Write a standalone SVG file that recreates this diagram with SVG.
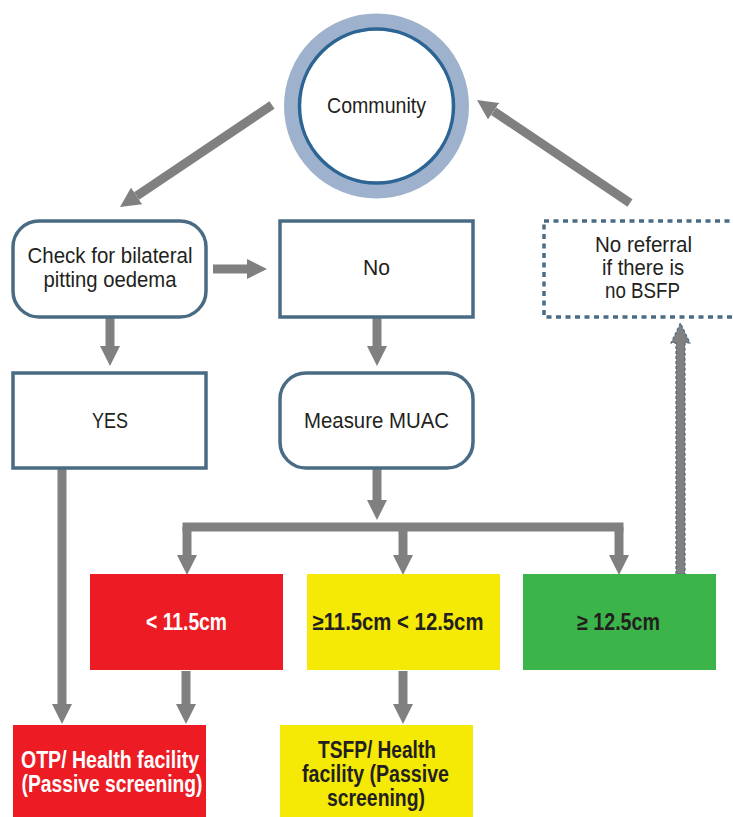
<svg xmlns="http://www.w3.org/2000/svg" width="733" height="817" viewBox="0 0 733 817">
<defs>
<style>
.node{fill:#fff;stroke:#4a6b84;stroke-width:3.5}
.dot{fill:#fff;stroke:#4a6b84;stroke-width:3.5;stroke-dasharray:5 4.5}
.t{font-family:"Liberation Sans",Arial,sans-serif;font-size:22px;fill:#231f20;text-anchor:middle}
.b{font-family:"Liberation Sans",Arial,sans-serif;font-size:23px;font-weight:bold;text-anchor:middle}
.w{fill:#fff}
.k{fill:#231f20}
.c{fill:none;stroke:#808080;stroke-width:9}
</style>
<marker id="ah" viewBox="0 0 20 20" refX="0" refY="10" markerWidth="20" markerHeight="20" markerUnits="userSpaceOnUse" orient="auto">
<path d="M0,0 L20,10 L0,20 z" fill="#808080"/>
</marker>
</defs>
<rect width="733" height="817" fill="#fff"/>

<g id="connectors">
<path class="c" d="M272,105 L136.6,195.9" marker-end="url(#ah)"/>
<path class="c" d="M630,203 L493.6,111.2" marker-end="url(#ah)"/>
<path class="c" d="M213,269 H247" marker-end="url(#ah)"/>
<path class="c" d="M110,317 V346" marker-end="url(#ah)"/>
<path class="c" d="M377,318 V346" marker-end="url(#ah)"/>
<path class="c" d="M377,469 V500" marker-end="url(#ah)"/>
<path class="c" d="M182.5,527 H623.5"/>
<path class="c" d="M187,527 V555" marker-end="url(#ah)"/>
<path class="c" d="M403,527 V555" marker-end="url(#ah)"/>
<path class="c" d="M619,527 V555" marker-end="url(#ah)"/>
<path class="c" d="M62,469 V704" marker-end="url(#ah)"/>
<path class="c" d="M186,671 V704" marker-end="url(#ah)"/>
<path class="c" d="M403,671 V704" marker-end="url(#ah)"/>
<polygon points="676,574 676,343 671,343 680.5,323 690,343 685,343 685,574" fill="#808080" stroke="#4a6b84" stroke-width="1.2" stroke-dasharray="3 2"/>
</g>

<g id="community">
<circle cx="376.5" cy="106" r="85" fill="none" stroke="#9fb2cd" stroke-width="15"/>
<circle cx="376.5" cy="106" r="77" fill="#fff" stroke="#2c6493" stroke-width="3.5"/>
<text class="t" x="376.5" y="113" textLength="99" lengthAdjust="spacingAndGlyphs">Community</text>
</g>

<g id="check">
<rect class="node" x="13" y="221" width="193" height="96" rx="26"/>
<text class="t" x="110" y="263" textLength="165" lengthAdjust="spacingAndGlyphs">Check for bilateral</text>
<text class="t" x="110" y="287" textLength="133" lengthAdjust="spacingAndGlyphs">pitting oedema</text>
</g>

<g id="no">
<rect class="node" x="280" y="221" width="193" height="96"/>
<text class="t" x="376.5" y="275" textLength="27" lengthAdjust="spacingAndGlyphs">No</text>
</g>

<g id="noreferral">
<rect class="dot" x="544" y="221" width="198" height="96"/>
<text class="t" x="643.5" y="252" textLength="97" lengthAdjust="spacingAndGlyphs">No referral</text>
<text class="t" x="643" y="275" textLength="82" lengthAdjust="spacingAndGlyphs">if there is</text>
<text class="t" x="642.5" y="298" textLength="75" lengthAdjust="spacingAndGlyphs">no BSFP</text>
</g>

<g id="yes">
<rect class="node" x="13" y="373" width="193" height="95"/>
<text class="t" x="110" y="428" textLength="36" lengthAdjust="spacingAndGlyphs">YES</text>
</g>

<g id="muac">
<rect class="node" x="280" y="373" width="193" height="95" rx="26"/>
<text class="t" x="376.5" y="428" textLength="145" lengthAdjust="spacingAndGlyphs">Measure MUAC</text>
</g>

<g id="lt115">
<rect x="90" y="574" width="193" height="96" fill="#ed1c24"/>
<text class="b w" x="186.5" y="630" textLength="81" lengthAdjust="spacingAndGlyphs">&lt; 11.5cm</text>
</g>

<g id="mid">
<rect x="307" y="574" width="193" height="96" fill="#f5ea05"/>
<text class="b k" x="398" y="630" textLength="171" lengthAdjust="spacingAndGlyphs">≥11.5cm &lt; 12.5cm</text>
</g>

<g id="ge125">
<rect x="523" y="574" width="193" height="96" fill="#3bb54a"/>
<text class="b k" x="618.5" y="630" textLength="83" lengthAdjust="spacingAndGlyphs">≥ 12.5cm</text>
</g>

<g id="otp">
<rect x="13" y="725" width="193" height="92" fill="#ed1c24"/>
<text class="b w" x="110" y="768" textLength="178" lengthAdjust="spacingAndGlyphs">OTP/ Health facility</text>
<text class="b w" x="112" y="792" textLength="181" lengthAdjust="spacingAndGlyphs">(Passive screening)</text>
</g>

<g id="tsfp">
<rect x="280" y="725" width="193" height="92" fill="#f5ea05"/>
<text class="b k" x="377" y="758" textLength="118" lengthAdjust="spacingAndGlyphs">TSFP/ Health</text>
<text class="b k" x="375.5" y="782" textLength="147" lengthAdjust="spacingAndGlyphs">facility (Passive</text>
<text class="b k" x="376" y="806" textLength="98" lengthAdjust="spacingAndGlyphs">screening)</text>
</g>
</svg>
